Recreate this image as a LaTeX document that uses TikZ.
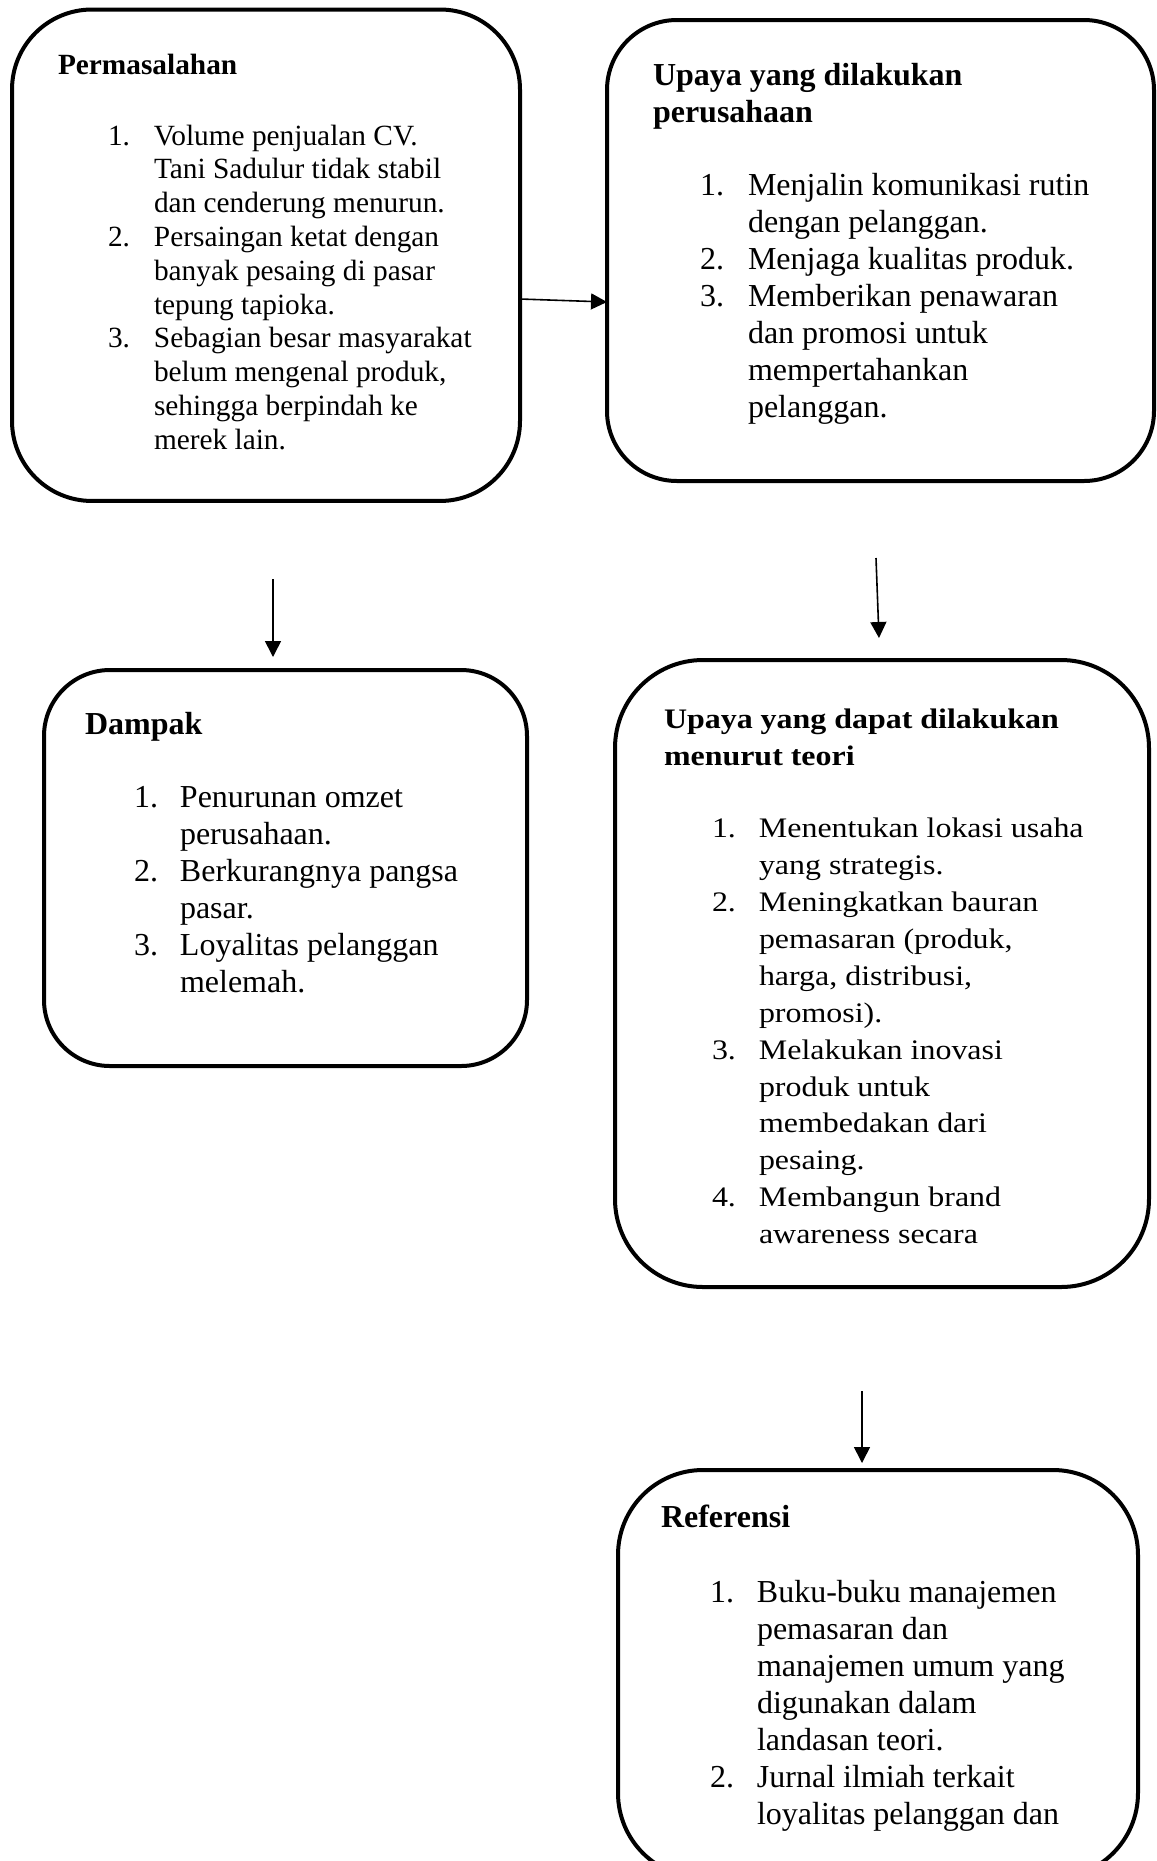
\documentclass[tikz,border=0pt]{standalone}
\usepackage{fontspec}
\setmainfont{Liberation Serif}
\newfontfamily\widefont{Liberation Serif}[FakeStretch=1.13]
\usetikzlibrary{arrows.meta,calc}
\tikzset{
  bx/.style={draw, line width=3pt, rounded corners=#1, inner sep=0pt, outer sep=0pt, anchor=north west},
  txt/.style={inner sep=0pt, outer sep=0pt, anchor=base west},
  arr/.style={line width=1.2pt, -{Triangle[length=12pt,width=12pt]}},
}
\newcommand\fa{\fontsize{22}{25.35}\selectfont}
\newcommand\fb{\fontsize{24}{27.75}\selectfont}
\newcommand\fc{\widefont\fontsize{21.2}{27.7}\selectfont}
\newenvironment{lst}[1]{\begin{tabular}[t]{@{}p{#1}@{}l@{}}}{\end{tabular}}
\begin{document}
\begin{tikzpicture}[x=0.75pt,y=-0.75pt]
\useasboundingbox (0,0) rectangle (1157,1861);
% boxes
\node[bx=60pt, minimum width=381pt, minimum height=368.6pt] (b1) at (12,9.5) {};
\node[bx=52.5pt, minimum width=410.25pt, minimum height=345.75pt] (b2) at (607,20) {};
\node[bx=49.5pt, minimum width=362.25pt, minimum height=297pt] (b3) at (44,670) {};
\node[bx=66pt, minimum width=400.5pt, minimum height=470.25pt] (b4) at (615,660) {};
\node[bx=63.75pt, minimum width=390pt, minimum height=306pt] (b5) at (618,1470) {};
% box 1
\node[txt] (h1) at (58,74.5) {\fa\bfseries Permasalahan};
\node[txt] (l1) at (108,145) {\fa\begin{lst}{34.5pt}
1. & Volume penjualan CV.\\
   & Tani Sadulur tidak stabil\\
   & dan cenderung menurun.\\
2. & Persaingan ketat dengan\\
   & banyak pesaing di pasar\\
   & tepung tapioka.\\
3. & Sebagian besar masyarakat\\
   & belum mengenal produk,\\
   & sehingga berpindah ke\\
   & merek lain.
\end{lst}};
% box 2
\node[txt] (h2) at (653,85) {\fb\bfseries\begin{tabular}[t]{@{}l@{}}Upaya yang dilakukan\\ perusahaan\end{tabular}};
\node[txt] (l2) at (700,195.5) {\fb\begin{lst}{36pt}
1. & Menjalin komunikasi rutin\\
   & dengan pelanggan.\\
2. & Menjaga kualitas produk.\\
3. & Memberikan penawaran\\
   & dan promosi untuk\\
   & mempertahankan\\
   & pelanggan.
\end{lst}};
% box 3
\node[txt] (h3) at (85,734.5) {\fb\bfseries Dampak};
\node[txt] (l3) at (134,807) {\fb\begin{lst}{34.5pt}
1. & Penurunan omzet\\
   & perusahaan.\\
2. & Berkurangnya pangsa\\
   & pasar.\\
3. & Loyalitas pelanggan\\
   & melemah.
\end{lst}};
% box 4
\node[txt] (h4) at (664,728.5) {\fc\bfseries\begin{tabular}[t]{@{}l@{}}Upaya yang dapat dilakukan\\ menurut teori\end{tabular}};
\node[txt] (l4) at (712,837.5) {\fc\begin{lst}{35.25pt}
1. & Menentukan lokasi usaha\\
   & yang strategis.\\
2. & Meningkatkan bauran\\
   & pemasaran (produk,\\
   & harga, distribusi,\\
   & promosi).\\
3. & Melakukan inovasi\\
   & produk untuk\\
   & membedakan dari\\
   & pesaing.\\
4. & Membangun brand\\
   & awareness secara
\end{lst}};
% box 5
\node[txt] (h5) at (661,1527.5) {\fb\bfseries Referensi};
\node[txt] (l5) at (710,1602.5) {\fb\begin{lst}{35.25pt}
1. & Buku-buku manajemen\\
   & pemasaran dan\\
   & manajemen umum yang\\
   & digunakan dalam\\
   & landasan teori.\\
2. & Jurnal ilmiah terkait\\
   & loyalitas pelanggan dan
\end{lst}};
% arrows
\coordinate (a1s) at (0,299);
\coordinate (a1e) at (0,302);
\draw[arr] (b1.east |- a1s) -- (b2.west |- a1e);
\coordinate (a2s) at (273,579);
\draw[arr, shorten >=9.75pt] (a2s) -- (a2s |- b3.north);
\coordinate (a3s) at (876,558);
\draw[arr] (a3s) -- ($(b4.north)+(-3,-22)$);
\coordinate (a4s) at (862,1391);
\draw[arr, shorten >=5.25pt] (a4s) -- (a4s |- b5.north);
\end{tikzpicture}
\end{document}
